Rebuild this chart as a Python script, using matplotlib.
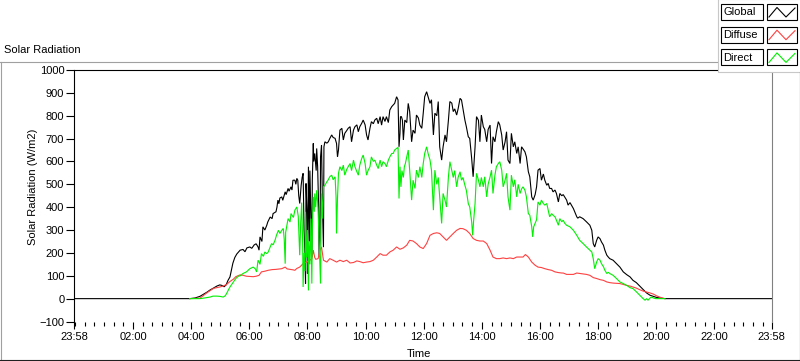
#!/usr/bin/env python3
"""LabVIEW-style solar radiation waveform chart (Global / Diffuse / Direct)."""
import matplotlib
matplotlib.use("Agg")
import matplotlib.pyplot as plt
from matplotlib.patches import Rectangle
from matplotlib.lines import Line2D

plt.rcParams.update({
    "font.family": "Liberation Sans",
    "font.size": 8,
})

# time in minutes after midnight, values in W/m2
GLOBAL_T = [-2, 237, 248, 258, 266, 273, 279, 285, 293, 299, 303, 308, 312, 316, 320,
            326, 330, 334, 341, 347, 351, 355, 361, 365, 370, 374, 378, 380, 382, 386,
            388, 392, 396, 398, 403, 407, 409, 415, 417, 419, 421, 423, 427, 429, 434,
            436, 440, 442, 446, 448, 450, 454, 456, 458, 460, 462, 464, 467, 469, 471,
            473, 475, 476, 477, 479, 480, 482, 483, 484, 485, 487, 489, 490, 492, 493,
            495, 498, 499, 501, 503, 504, 506, 507, 509, 511, 513, 514, 516, 520, 523,
            526, 530, 533, 537, 540, 542, 544, 547, 551, 554, 557, 561, 564, 568, 571,
            575, 578, 582, 585, 588, 592, 595, 599, 602, 605, 609, 612, 616, 619, 623,
            626, 630, 633, 636, 640, 643, 647, 650, 654, 657, 660, 664, 667, 669, 671,
            672, 674, 676, 678, 681, 685, 688, 691, 695, 698, 702, 705, 709, 712, 716,
            719, 722, 726, 729, 733, 736, 740, 743, 747, 750, 753, 757, 760, 764, 767,
            771, 774, 778, 781, 784, 788, 791, 795, 798, 801, 805, 808, 812, 815, 819,
            822, 826, 829, 833, 836, 839, 843, 846, 850, 853, 857, 860, 863, 867, 870,
            874, 877, 881, 884, 888, 891, 894, 898, 901, 905, 908, 912, 915, 919, 922,
            925, 929, 932, 936, 939, 943, 946, 950, 953, 956, 960, 963, 967, 970, 974,
            977, 980, 984, 987, 991, 994, 998, 1001, 1005, 1008, 1015, 1018, 1022, 1029,
            1036, 1038, 1042, 1049, 1056, 1063, 1067, 1070, 1073, 1077, 1080, 1084, 1087,
            1091, 1094, 1098, 1101, 1104, 1111, 1118, 1125, 1132, 1139, 1146, 1152, 1159,
            1166, 1173, 1180, 1187, 1194, 1201, 1208, 1218, 1438]
GLOBAL_V = [0, 0, 3, 10, 20, 29, 38, 45, 55, 60, 58, 52, 60, 80, 95,
            155, 180, 195, 212, 215, 205, 222, 226, 220, 235, 240, 226, 212, 270, 250,
            314, 300, 321, 335, 357, 350, 372, 380, 400, 431, 415, 440, 445, 430, 467,
            455, 482, 470, 489, 475, 518, 518, 500, 526, 518, 450, 416, 496, 530, 548,
            300, 182, 66, 504, 380, 110, 577, 420, 250, 560, 380, 182, 520, 679, 600,
            635, 560, 657, 577, 400, 182, 255, 620, 672, 400, 225, 664, 686, 680, 686,
            700, 716, 705, 701, 679, 620, 650, 737, 745, 694, 723, 735, 745, 752, 686,
            737, 752, 760, 730, 752, 767, 781, 760, 716, 694, 745, 774, 765, 781, 789,
            765, 796, 759, 796, 775, 796, 770, 825, 840, 847, 854, 883, 869, 664, 723,
            796, 796, 781, 694, 781, 770, 854, 818, 686, 737, 723, 803, 790, 759, 745,
            811, 883, 905, 883, 854, 870, 716, 811, 800, 862, 664, 606, 664, 716, 686,
            781, 862, 855, 818, 830, 803, 830, 876, 869, 830, 781, 752, 708, 701, 613,
            533, 664, 796, 780, 686, 803, 752, 740, 686, 740, 759, 591, 708, 686, 730,
            774, 760, 716, 650, 686, 730, 606, 591, 723, 664, 686, 635, 664, 591, 664,
            655, 642, 620, 555, 533, 445, 431, 455, 489, 562, 569, 518, 545, 518, 496,
            504, 482, 482, 467, 475, 460, 423, 460, 450, 455, 431, 409, 420, 394,
            358, 352, 358, 350, 336, 321, 299, 241, 226, 255, 270, 262, 248,
            234, 212, 190, 182, 175, 168, 153, 138, 117, 105, 95, 80, 70,
            55, 40, 25, 15, 10, 5, 3, 0, 0]

DIFFUSE_T = [237, 258, 264, 272, 279, 286, 293, 299, 306, 313, 320, 327, 332, 341, 347,
             354, 361, 368, 374, 380, 385, 392, 399, 407, 415, 427, 434, 438, 444, 450,
             454, 458, 464, 471, 478, 485, 489, 492, 495, 497, 502, 506, 509, 513, 520,
             526, 533, 540, 547, 554, 561, 568, 575, 582, 588, 595, 602, 609, 616, 623,
             630, 636, 643, 650, 657, 664, 671, 678, 685, 691, 698, 705, 712, 719, 726,
             733, 740, 747, 753, 760, 767, 774, 781, 788, 795, 801, 808, 815, 822, 829,
             836, 843, 850, 857, 863, 870, 877, 884, 891, 898, 905, 912, 919, 925, 930,
             936, 943, 950, 956, 963, 970, 977, 984, 991, 998, 1005, 1008, 1015, 1022,
             1029, 1036, 1042, 1049, 1056, 1063, 1070, 1077, 1084, 1091, 1098, 1104,
             1111, 1118, 1125, 1132, 1139, 1146, 1152, 1159, 1166, 1173, 1180, 1187,
             1194, 1201, 1208, 1214, 1218]
DIFFUSE_V = [0, 2, 12, 25, 35, 45, 48, 51, 55, 62, 75, 85, 96, 104, 102,
             98, 97, 96, 98, 102, 117, 120, 124, 127, 128, 131, 138, 130, 128, 126,
             124, 132, 138, 153, 160, 168, 175, 212, 180, 172, 175, 212, 226, 168, 160,
             175, 168, 160, 168, 162, 168, 156, 158, 165, 162, 157, 160, 162, 168, 182,
             197, 190, 190, 204, 212, 226, 216, 222, 234, 255, 252, 241, 226, 219, 241,
             277, 285, 288, 285, 270, 255, 270, 285, 299, 307, 306, 299, 285, 263, 255,
             252, 252, 241, 212, 182, 175, 175, 178, 175, 178, 175, 182, 182, 182, 193,
             182, 160, 146, 138, 136, 131, 127, 124, 117, 114, 112, 112, 106, 106,
             106, 112, 110, 108, 106, 102, 92, 88, 83, 80, 73, 70,
             68, 67, 66, 62, 58, 55, 51, 46, 39, 33, 29, 25,
             20, 12, 6, 2, 0]

DIRECT_T = [237, 258, 268, 279, 285, 293, 299, 306, 310, 313, 316, 320, 327, 332, 337,
            341, 347, 354, 361, 368, 372, 375, 378, 380, 382, 385, 389, 392, 396, 399,
            403, 406, 409, 413, 416, 420, 423, 427, 430, 432, 434, 435, 437, 440, 444,
            446, 451, 454, 458, 461, 464, 466, 468, 470, 471, 473, 475, 476, 478, 480,
            482, 483, 485, 487, 489, 490, 492, 494, 495, 497, 499, 501, 502, 504, 506,
            507, 508, 509, 511, 513, 516, 520, 523, 526, 530, 533, 537, 539, 540, 542,
            544, 547, 551, 554, 557, 561, 564, 568, 571, 575, 578, 582, 585, 588, 592,
            595, 599, 602, 605, 609, 612, 616, 619, 623, 626, 630, 633, 636, 640, 643,
            647, 650, 654, 657, 660, 664, 667, 669, 671, 673, 675, 678, 680, 682, 685,
            688, 690, 691, 695, 698, 702, 705, 709, 712, 716, 719, 722, 726, 729, 733,
            736, 740, 743, 747, 750, 753, 757, 760, 764, 767, 771, 774, 778, 781, 784,
            788, 791, 795, 798, 801, 805, 808, 812, 815, 819, 821, 823, 826, 829, 833,
            836, 839, 843, 846, 850, 853, 857, 860, 863, 867, 870, 874, 877, 881, 884,
            888, 891, 894, 898, 901, 905, 908, 912, 915, 919, 922, 925, 929, 932, 936,
            939, 943, 945, 947, 950, 953, 956, 960, 963, 967, 970, 974, 977, 980, 984,
            987, 991, 994, 998, 1001, 1005, 1008, 1011, 1015, 1022, 1029, 1036, 1042,
            1049, 1056, 1063, 1067, 1070, 1073, 1077, 1080, 1084, 1087, 1091, 1094,
            1098, 1101, 1104, 1111, 1118, 1125, 1132, 1139, 1146, 1152, 1159, 1166,
            1173, 1177, 1180, 1183, 1187, 1190, 1194, 1199, 1218]
DIRECT_V = [0, 0, 3, 7, 11, 11, 10, 7, 12, 22, 35, 51, 73, 88, 98,
            100, 110, 117, 131, 138, 131, 117, 168, 160, 150, 197, 185, 204, 197, 204,
            226, 241, 235, 255, 277, 299, 285, 299, 307, 260, 153, 290, 314, 350, 335,
            372, 355, 387, 401, 360, 190, 330, 420, 250, 51, 200, 120, 380, 180, 300,
            36, 250, 150, 350, 66, 300, 445, 380, 460, 400, 474, 420, 380, 250, 124,
            66, 299, 460, 350, 489, 496, 511, 520, 533, 540, 520, 533, 445, 285, 440,
            548, 577, 560, 584, 540, 565, 577, 591, 560, 606, 577, 555, 540, 584, 613,
            628, 591, 540, 560, 577, 620, 600, 606, 584, 569, 606, 577, 599, 591, 577,
            606, 620, 635, 635, 650, 657, 662, 438, 577, 489, 560, 530, 577, 590, 620,
            650, 590, 562, 431, 518, 482, 562, 530, 577, 530, 591, 635, 664, 635, 606,
            562, 387, 562, 500, 530, 445, 329, 460, 430, 401, 533, 599, 560, 530, 560,
            489, 530, 555, 518, 530, 496, 474, 416, 401, 336, 277, 340, 416, 548, 518,
            489, 530, 489, 533, 445, 500, 533, 562, 460, 540, 577, 591, 599, 562, 489,
            518, 548, 445, 387, 540, 489, 520, 445, 500, 460, 480, 489, 474, 445, 372,
            365, 314, 270, 314, 330, 345, 423, 409, 431, 416, 409, 416, 387, 358, 372,
            365, 358, 343, 321, 350, 336, 343, 330, 321, 314, 299, 277, 255,
            241, 226, 212, 204, 175, 131, 160, 175, 168, 153, 140, 124,
            110, 115, 110, 102, 88, 73, 66, 58, 48, 44, 30, 15,
            0, -7, 0, -7, 2, 7, 3, 0, 0]

SERIES = [("Global", "#000000", GLOBAL_T, GLOBAL_V),
          ("Diffuse", "#ff4040", DIFFUSE_T, DIFFUSE_V),
          ("Direct", "#00f000", DIRECT_T, DIRECT_V)]

X_LABELS = ["23:58", "02:00", "04:00", "06:00", "08:00", "10:00", "12:00",
            "14:00", "16:00", "18:00", "20:00", "22:00", "23:58"]
Y_TICKS = list(range(-100, 1001, 100))


def to_min(s, last=False):
    h, m = map(int, s.split(":"))
    v = h * 60 + m
    return v - 1440 if (v > 1400 and not last) else v


W, H = 800, 361
fig = plt.figure(figsize=(W / 100, H / 100), dpi=100)
fig.patch.set_facecolor("white")
L, R, T, B = 74, 771.5, 70, 321.5
ax = fig.add_axes([L / W, 1 - B / H, (R - L) / W, (B - T) / H])

for name, colour, t, v in SERIES:
    ax.plot(t, v, color=colour, lw=0.8, solid_joinstyle="miter")

xt = [to_min(s, i == len(X_LABELS) - 1) for i, s in enumerate(X_LABELS)]
ax.set_xlim(xt[0], xt[-1])
ax.set_ylim(-100, 1000)
ax.set_xticks(xt)
ax.set_xticklabels(X_LABELS)
ax.set_xticks([m for m in range(0, 1440, 20) if m not in xt], minor=True)
ax.set_yticks(Y_TICKS)
ax.tick_params(axis="x", which="major", length=5, width=0.8, pad=2.5, labelsize=8)
ax.tick_params(axis="x", which="minor", length=3, width=0.8)
ax.tick_params(axis="y", length=5.5, width=0.8, pad=1.5, labelsize=8)

for k, sp in ax.spines.items():
    sp.set_linewidth(0.8)
    sp.set_color("#000000")
ax.spines["bottom"].set_visible(False)
ax.spines["right"].set_color("#808080")

ax.set_xlabel("Time", fontsize=8)
ax.xaxis.set_label_coords(0.495, -0.108)
ax.set_ylabel("Solar Radiation (W/m2)", fontsize=8)
ax.yaxis.set_label_coords(-0.052, 0.535)

fig.text(4 / W, 1 - 50 / H, "Solar Radiation", fontsize=8, va="center", ha="left")

# frame + legend drawn in pixel space
ov = fig.add_axes([0, 0, 1, 1])
ov.set_xlim(0, W)
ov.set_ylim(H, 0)
ov.axis("off")
ov.add_line(Line2D([0, 717], [61.5, 61.5], color="#a0a0a0", lw=0.8))
ov.add_line(Line2D([0.5, 0.5], [61.5, H], color="#a0a0a0", lw=0.8))
ov.add_line(Line2D([0, W], [359.5, 359.5], color="#202020", lw=0.8))
ov.add_line(Line2D([799.5, 799.5], [72, 360], color="#202020", lw=0.8))

ov.add_patch(Rectangle((717.5, -1), 84, 73, facecolor="white", edgecolor="#c8c8c8", lw=0.8))
for i, (name, colour, _, _) in enumerate(SERIES):
    y0 = 4 + i * 22.7
    ov.add_patch(Rectangle((721, y0), 42, 16, facecolor="white", edgecolor="black", lw=0.8))
    ov.text(723.5, y0 + 8.3, name, fontsize=8, va="center", ha="left")
    ov.add_patch(Rectangle((767, y0), 30, 16, facecolor="white", edgecolor="black", lw=0.8))
    ov.add_line(Line2D([769, 777, 786, 795], [y0 + 13, y0 + 3.5, y0 + 13, y0 + 4],
                       color=colour, lw=0.8))

fig.savefig("out.png", dpi=100, facecolor="white")
